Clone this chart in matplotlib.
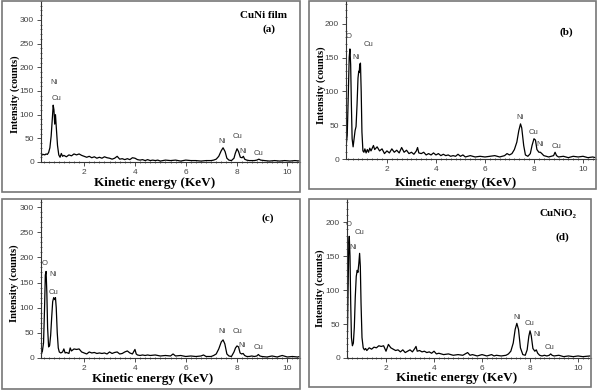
import matplotlib
matplotlib.use("Agg")
import matplotlib.pyplot as plt
from matplotlib.patches import Rectangle
from matplotlib.ticker import MultipleLocator

W, H = 600, 391

# ---- spectra (energy in keV, intensity in counts) ----
e_a = [0.30, 0.35, 0.40, 0.45, 0.50, 0.55, 0.60, 0.65, 0.70, 0.75, 0.78, 0.81, 0.84, 0.87, 0.90,
       0.95, 1.00, 1.05, 1.10, 1.15, 1.2, 1.3, 1.4, 1.5, 1.6, 1.7, 1.8, 1.9, 2.0, 2.1, 2.2, 2.3,
       2.4, 2.5, 2.6, 2.7, 2.8, 2.9, 3.0, 3.1, 3.2, 3.3, 3.4, 3.5, 3.6, 3.7, 3.8, 3.9, 4.0, 4.1,
       4.2, 4.3, 4.4, 4.5, 4.6, 4.7, 4.8, 4.9, 5.0, 5.2, 5.4, 5.6, 5.8, 6.0, 6.2, 6.4, 6.6, 6.8,
       7.0, 7.1, 7.2, 7.3, 7.4, 7.47, 7.55, 7.62, 7.7, 7.8, 7.9, 7.95, 8.02, 8.08, 8.15, 8.22,
       8.27, 8.32, 8.4, 8.5, 8.6, 8.7, 8.8, 8.88, 8.95, 9.1, 9.3, 9.5, 9.7, 9.9, 10.1, 10.3, 10.5]
c_a = [16, 15, 16, 15, 17, 16, 20, 30, 55, 95, 120, 110, 80, 100, 75,
       35, 15, 10, 18, 12, 14, 11, 15, 13, 17, 15, 17, 14, 12, 10, 12, 9,
       11, 8, 10, 8, 11, 9, 8, 6, 8, 12, 6, 7, 5, 7, 5, 9, 8, 5,
       4, 5, 3, 5, 3, 4, 3, 4, 2, 4, 3, 4, 2, 4, 3, 3, 2, 3,
       3, 4, 6, 12, 24, 30, 22, 8, 4, 3, 8, 18, 28, 22, 10, 9,
       12, 6, 4, 3, 3, 3, 4, 6, 4, 3, 2, 3, 2, 3, 2, 3, 2]

e_b = [0.33, 0.38, 0.42, 0.46, 0.49, 0.52, 0.55, 0.58, 0.62, 0.66, 0.70, 0.74, 0.78, 0.82, 0.85,
       0.87, 0.89, 0.92, 0.95, 0.98, 1.02, 1.06, 1.1, 1.15, 1.2, 1.25, 1.3, 1.35, 1.45, 1.5, 1.6,
       1.7, 1.8, 1.9, 2.0, 2.1, 2.2, 2.3, 2.4, 2.5, 2.6, 2.7, 2.8, 2.9, 3.0, 3.1, 3.2, 3.25, 3.3,
       3.4, 3.5, 3.6, 3.7, 3.8, 3.9, 4.0, 4.1, 4.2, 4.3, 4.4, 4.5, 4.6, 4.7, 4.8, 4.9, 5.0, 5.1,
       5.2, 5.4, 5.6, 5.8, 6.0, 6.2, 6.4, 6.6, 6.8, 6.9, 7.0, 7.1, 7.2, 7.3, 7.38, 7.45, 7.5,
       7.58, 7.65, 7.75, 7.85, 7.92, 8.0, 8.06, 8.12, 8.2, 8.26, 8.32, 8.4, 8.5, 8.6, 8.7, 8.8,
       8.86, 8.92, 9.0, 9.2, 9.4, 9.6, 9.8, 10.0, 10.2, 10.4, 10.5]
c_b = [18, 35, 90, 150, 163, 140, 80, 30, 18, 30, 42, 48, 80, 120, 130,
       128, 140, 142, 100, 40, 12, 10, 15, 9, 14, 10, 16, 12, 20, 14, 18,
       12, 15, 8, 12, 9, 15, 10, 13, 9, 17, 10, 13, 8, 10, 7, 12, 17, 9,
       8, 10, 6, 8, 6, 9, 6, 8, 5, 7, 5, 6, 4, 5, 4, 7, 4, 6,
       3, 5, 3, 4, 3, 4, 5, 3, 5, 8, 6, 8, 14, 25, 42, 52, 46,
       20, 6, 4, 8, 20, 30, 28, 14, 10, 10, 8, 5, 4, 3, 4, 5,
       10, 5, 3, 4, 2, 4, 3, 4, 2, 3, 2]

e_c = [0.30, 0.35, 0.40, 0.44, 0.47, 0.50, 0.53, 0.56, 0.60, 0.64, 0.68, 0.72, 0.76, 0.80, 0.84,
       0.87, 0.90, 0.94, 0.98, 1.02, 1.08, 1.15, 1.2, 1.25, 1.3, 1.4, 1.45, 1.5, 1.6, 1.7, 1.8,
       1.9, 2.0, 2.1, 2.2, 2.3, 2.4, 2.5, 2.6, 2.7, 2.8, 2.9, 3.0, 3.1, 3.2, 3.3, 3.4, 3.5, 3.6,
       3.7, 3.8, 3.9, 4.0, 4.05, 4.1, 4.2, 4.3, 4.4, 4.5, 4.6, 4.8, 5.0, 5.2, 5.4, 5.5, 5.6, 5.8,
       6.0, 6.2, 6.4, 6.6, 6.7, 6.8, 7.0, 7.1, 7.2, 7.3, 7.4, 7.47, 7.54, 7.62, 7.7, 7.8, 7.9,
       7.96, 8.02, 8.08, 8.14, 8.2, 8.26, 8.32, 8.4, 8.5, 8.6, 8.7, 8.8, 8.86, 8.92, 9.0, 9.2,
       9.4, 9.6, 9.8, 10.0, 10.2, 10.4, 10.5]
c_c = [10, 12, 30, 100, 165, 172, 130, 60, 22, 25, 45, 80, 112, 120, 116,
       120, 100, 50, 20, 12, 10, 12, 18, 10, 11, 9, 20, 14, 18, 17, 18,
       12, 10, 8, 12, 10, 11, 9, 10, 9, 10, 8, 12, 9, 11, 12, 8, 9, 12,
       14, 10, 8, 17, 8, 6, 5, 6, 5, 6, 5, 6, 4, 5, 4, 8, 4, 5,
       3, 4, 3, 4, 6, 3, 3, 5, 8, 18, 32, 36, 28, 8, 4, 3, 12,
       20, 24, 22, 10, 8, 9, 5, 3, 3, 4, 3, 4, 7, 4, 3, 2,
       4, 2, 5, 2, 3, 2, 3]

e_d = [0.375, 0.39, 0.42, 0.45, 0.47, 0.50, 0.53, 0.56, 0.60, 0.64, 0.68, 0.72, 0.76, 0.80, 0.83,
       0.87, 0.90, 0.93, 0.96, 1.0, 1.05, 1.1, 1.15, 1.2, 1.3, 1.4, 1.5, 1.6, 1.7, 1.8, 1.9,
       2.0, 2.1, 2.2, 2.3, 2.4, 2.5, 2.6, 2.7, 2.8, 2.9, 3.0, 3.1, 3.2, 3.25, 3.3, 3.4, 3.5, 3.6,
       3.7, 3.8, 3.9, 4.0, 4.1, 4.2, 4.4, 4.6, 4.8, 5.0, 5.2, 5.4, 5.5, 5.6, 5.8, 6.0, 6.2, 6.4,
       6.5, 6.6, 6.8, 7.0, 7.1, 7.2, 7.3, 7.38, 7.45, 7.52, 7.6, 7.7, 7.8, 7.88, 7.95, 8.0, 8.05,
       8.12, 8.2, 8.26, 8.32, 8.4, 8.5, 8.6, 8.7, 8.8, 8.86, 8.92, 9.0, 9.2, 9.4, 9.6, 9.8, 10.0,
       10.2, 10.5]
c_d = [20, 30, 100, 170, 179, 150, 80, 30, 18, 22, 45, 90, 120, 129, 126,
       140, 154, 135, 80, 30, 15, 12, 14, 11, 15, 13, 16, 15, 18, 17, 18,
       10, 20, 15, 13, 11, 12, 9, 12, 8, 10, 12, 9, 14, 17, 10, 11, 9, 10,
       8, 9, 7, 10, 6, 7, 5, 6, 4, 5, 4, 8, 4, 5, 3, 5, 3, 5,
       3, 4, 3, 4, 6, 10, 22, 42, 51, 42, 15, 5, 4, 12, 32, 40, 33,
       14, 10, 12, 7, 4, 3, 4, 3, 4, 6, 4, 3, 4, 2, 3, 2, 3,
       2, 3]

# peak labels: (text, energy, counts)
lab_a = [("Ni", 0.81, 167), ("Cu", 0.93, 135), ("Ni", 7.43, 44), ("Cu", 8.02, 53),
         ("Ni", 8.25, 23), ("Cu", 8.88, 19)]
lab_b = [("O", 0.45, 181), ("Cu", 1.23, 169), ("Ni", 0.74, 151), ("Ni", 7.43, 62),
         ("Cu", 8.0, 39), ("Ni", 8.25, 22), ("Cu", 8.9, 19)]
lab_c = [("O", 0.46, 187), ("Ni", 0.78, 165), ("Cu", 0.78, 131), ("Ni", 7.43, 52),
         ("Cu", 8.02, 52), ("Ni", 8.2, 24), ("Cu", 8.85, 20)]
lab_d = [("O", 0.46, 197), ("Cu", 0.9, 185), ("Ni", 0.63, 163), ("Ni", 7.46, 60),
         ("Cu", 7.96, 51), ("Ni", 8.3, 34), ("Cu", 8.83, 15)]

yticks_a = [0, 50, 100, 150, 200, 250, 300]
yticks_b = [0, 50, 100, 150, 200]
xticks = [2, 4, 6, 8, 10]

serif = ["Liberation Serif", "DejaVu Serif"]
sans = ["Liberation Sans", "DejaVu Sans"]


def fig_box(x0, y0, x1, y1):
    return [x0 / W, 1 - y1 / H, (x1 - x0) / W, (y1 - y0) / H]


fig = plt.figure(figsize=(6, 3.91), dpi=100)

panels = [
    # axes box px, frame box px, xlim, ylim, yticks, data, labels, ylabel pos, xlabel pos, titles
    dict(ax=(41, 1, 300, 162), frame=(2, 1, 300, 192), xlim=(0.3, 10.5), ylim=(0, 340),
         yt=yticks_a, e=e_a, c=c_a, labs=lab_a, yl=(15, 94), xl=(155, 183),
         titles=[("CuNi film", 263, 15), ("(a)", 269, 29)]),
    dict(ax=(346, 1, 596, 159), frame=(309, 1, 596, 189), xlim=(0.33, 10.53), ylim=(0, 234),
         yt=yticks_b, e=e_b, c=c_b, labs=lab_b, yl=(321, 85), xl=(456, 183),
         titles=[("(b)", 566, 32)]),
    dict(ax=(41, 199, 300, 358), frame=(2, 199, 300, 389), xlim=(0.3, 10.5), ylim=(0, 316),
         yt=yticks_a, e=e_c, c=c_c, labs=lab_c, yl=(14, 283), xl=(153, 379),
         titles=[("(c)", 268, 218)]),
    dict(ax=(347, 199, 591, 358), frame=(309, 199, 591, 387), xlim=(0.375, 10.54), ylim=(0, 234),
         yt=yticks_b, e=e_d, c=c_d, labs=lab_d, yl=(320, 288), xl=(457, 378),
         titles=[("CuNiO\u2082", 558, 214), ("(d)", 562, 237)]),
]

for p in panels:
    ax = fig.add_axes(fig_box(*p["ax"]))
    ax.plot(p["e"], p["c"], color="black", lw=0.9)
    ax.set_xlim(*p["xlim"])
    ax.set_ylim(*p["ylim"])
    ax.set_xticks(xticks)
    ax.set_yticks(p["yt"])
    ax.xaxis.set_minor_locator(MultipleLocator(0.2))
    ax.yaxis.set_minor_locator(MultipleLocator(10))
    ax.spines["top"].set_visible(False)
    ax.spines["right"].set_visible(False)
    for s in ("left", "bottom"):
        ax.spines[s].set_linewidth(0.8)
        ax.spines[s].set_color("#333333")
    ax.tick_params(which="major", direction="out", length=3, width=0.6, pad=2,
                   labelsize=6, labelcolor="#444444", color="#333333")
    ax.tick_params(which="minor", direction="inout", length=2, width=0.5, color="#333333")
    for t in ax.get_xticklabels() + ax.get_yticklabels():
        t.set_family(sans)
    for txt, x, y in p["labs"]:
        ax.text(x, y, txt, fontsize=5.5, family=sans, color="#444444",
                ha="center", va="center")
    fx0, fy0, fx1, fy1 = p["frame"]
    fig.add_artist(Rectangle((fx0 / W, 1 - fy1 / H), (fx1 - fx0) / W, (fy1 - fy0) / H,
                             transform=fig.transFigure, fill=False,
                             edgecolor="#777777", lw=1.2))
    yx, yy = p["yl"]
    fig.text(yx / W, 1 - yy / H, "Intensity (counts)", rotation=90, fontsize=7.5,
             fontweight="bold", family=serif, ha="center", va="center")
    xx, xy = p["xl"]
    fig.text(xx / W, 1 - xy / H, "Kinetic energy (KeV)", fontsize=9.5,
             fontweight="bold", family=serif, ha="center", va="center")
    for txt, x, y in p["titles"]:
        fig.text(x / W, 1 - y / H, txt, fontsize=8, fontweight="bold", family=serif,
                 ha="center", va="center")

fig.savefig("out.png", dpi=100)
